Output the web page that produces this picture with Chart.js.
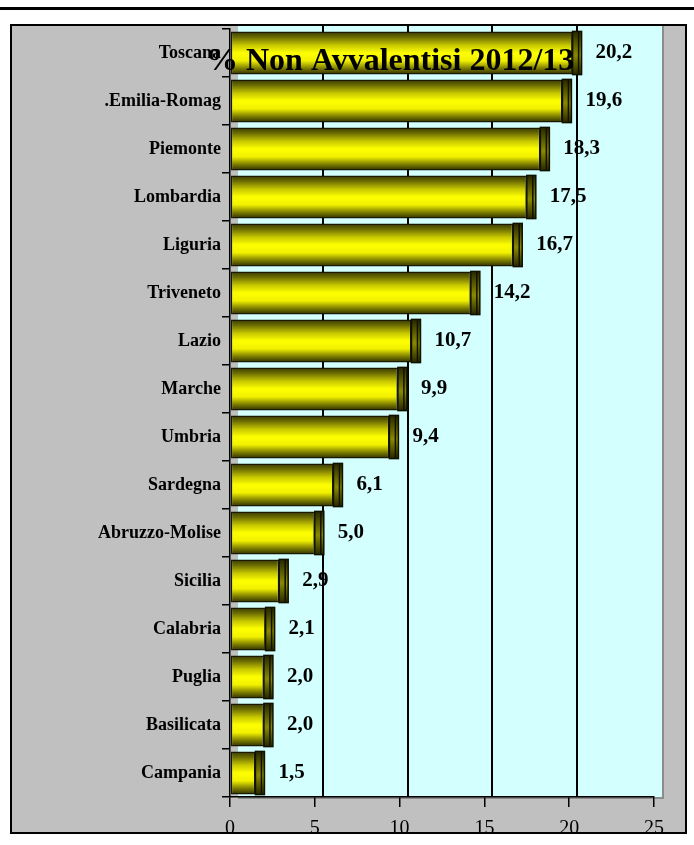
<!DOCTYPE html>
<html>
<head>
<meta charset="utf-8">
<script src="https://cdn.jsdelivr.net/npm/chart.js@4.4.1/dist/chart.umd.min.js"></script>
<style>
  html, body { margin: 0; padding: 0; background: #fff; }
  canvas { display: block; }
</style>
</head>
<body>
<canvas id="regioniChart" width="694" height="845"></canvas>
<script>
const TITLE = '% Non Avvalentisi 2012/13';
const regioni = ['Toscana', '.Emilia-Romag', 'Piemonte', 'Lombardia', 'Liguria', 'Triveneto', 'Lazio', 'Marche',
    'Umbria', 'Sardegna', 'Abruzzo-Molise', 'Sicilia', 'Calabria', 'Puglia', 'Basilicata', 'Campania'];
const percentuali = [20.2, 19.6, 18.3, 17.5, 16.7, 14.2, 10.7, 9.9, 9.4, 6.1, 5.0, 2.9, 2.1, 2.0, 2.0, 1.5];
const xTicks = [0, 5, 10, 15, 20, 25];

const SERIF = "'Liberation Serif', 'Times New Roman', serif";
Chart.defaults.font.family = SERIF;
Chart.defaults.color = '#000';

const DEPTH = 8; // 3d offset of the back wall

function barGradient(ctx, top, bottom, dark) {
    const g = ctx.createLinearGradient(0, top, 0, bottom);
    if (dark) {
        g.addColorStop(0, '#262600');
        g.addColorStop(0.55, '#8a8a00');
        g.addColorStop(1, '#262600');
    } else {
        g.addColorStop(0, '#333300');
        g.addColorStop(0.12, '#666600');
        g.addColorStop(0.32, '#c8c800');
        g.addColorStop(0.5, '#ffff00');
        g.addColorStop(0.68, '#f0f000');
        g.addColorStop(0.86, '#7a7a00');
        g.addColorStop(1, '#2a2a00');
    }
    return g;
}

// sfondo: linea in alto, riquadro grigio, parete azzurra e griglia spostata
const sfondoPlugin = {
    id: 'sfondo',
    beforeDraw(chart) {
        const ctx = chart.ctx;
        const a = chart.chartArea;
        ctx.save();
        ctx.fillStyle = '#fff';
        ctx.fillRect(0, 0, chart.width, chart.height);
        ctx.fillStyle = '#000';
        ctx.fillRect(0, 7, chart.width, 3);
        ctx.fillStyle = '#c0c0c0';
        ctx.fillRect(10, 25, 676, 808);
        // parete
        ctx.fillStyle = '#d4ffff';
        ctx.fillRect(a.left + DEPTH, 26, a.right - a.left, a.bottom - 26);
        ctx.fillStyle = '#8c8c8c';
        ctx.fillRect(a.right + DEPTH, 26, 2, a.bottom - 24);
        ctx.fillRect(a.left + DEPTH, a.bottom, a.right - a.left + 2, 2);
        ctx.restore();
    },
    beforeDatasetsDraw(chart) {
        const ctx = chart.ctx;
        const x = chart.scales.x;
        const a = chart.chartArea;
        ctx.save();
        ctx.strokeStyle = '#000';
        ctx.lineWidth = 2;
        xTicks.slice(1, -1).forEach(v => {
            const px = Math.round(x.getPixelForValue(v)) + DEPTH;
            ctx.beginPath();
            ctx.moveTo(px, 26);
            ctx.lineTo(px, a.bottom);
            ctx.stroke();
        });
        ctx.restore();
    },
    afterDatasetsDraw(chart) {
        const ctx = chart.ctx;
        const meta = chart.getDatasetMeta(0);
        ctx.save();
        meta.data.forEach((bar, i) => {
            const top = bar.y - bar.height / 2;
            const bottom = bar.y + bar.height / 2;
            // tappo del cilindro
            ctx.fillStyle = barGradient(ctx, top, bottom, true);
            ctx.fillRect(bar.x, top, DEPTH + 1, bar.height);
            ctx.strokeStyle = '#111100';
            ctx.lineWidth = 1.5;
            ctx.strokeRect(bar.x, top, DEPTH + 1, bar.height);
            ctx.beginPath();
            ctx.moveTo(bar.x + 6, top);
            ctx.lineTo(bar.x + 6, bottom);
            ctx.stroke();
            // etichetta valore
            ctx.fillStyle = '#000';
            ctx.font = 'bold 21px ' + SERIF;
            ctx.textAlign = 'left';
            ctx.textBaseline = 'middle';
            ctx.fillText(percentuali[i].toFixed(1).replace('.', ','), bar.x + 23, bar.y);
        });
        // titolo sopra la prima barra
        ctx.font = 'bold 32px ' + SERIF;
        ctx.textAlign = 'left';
        ctx.textBaseline = 'alphabetic';
        ctx.fillStyle = '#000';
        ctx.fillText(TITLE, 206, 70);
        ctx.restore();
    },
    afterDraw(chart) {
        const ctx = chart.ctx;
        ctx.save();
        ctx.fillStyle = '#fff';
        ctx.fillRect(0, 834, chart.width, chart.height - 834);
        ctx.strokeStyle = '#000';
        ctx.lineWidth = 2;
        ctx.strokeRect(11, 25, 675, 808);
        ctx.restore();
    }
};

const ctx = document.getElementById('regioniChart').getContext('2d');
const regioniChart = new Chart(ctx, {
    type: 'bar',
    data: {
        labels: regioni,
        datasets: [{
            data: percentuali,
            backgroundColor: function (c) {
                const chart = c.chart;
                const y = chart.scales.y;
                if (!chart.chartArea || !y) return '#ffff00';
                const band = (chart.chartArea.bottom - chart.chartArea.top) / regioni.length;
                const yc = y.getPixelForValue(c.dataIndex);
                return barGradient(chart.ctx, yc - band * 0.45, yc + band * 0.45, false);
            },
            borderColor: '#1a1a00',
            borderWidth: 1.5,
            borderSkipped: false,
            barPercentage: 0.9,
            categoryPercentage: 1.0
        }]
    },
    options: {
        indexAxis: 'y',
        responsive: false,
        animation: false,
        devicePixelRatio: 1,
        layout: { padding: { top: 29, right: 40, bottom: 0, left: 0 } },
        plugins: {
            legend: { display: false },
            title: { display: false },
            tooltip: { enabled: false }
        },
        scales: {
            x: {
                min: 0,
                max: 25,
                afterFit: s => { s.height = 48; },
                afterBuildTicks: s => { s.ticks = xTicks.map(v => ({ value: v })); },
                grid: { drawOnChartArea: false, color: '#000', tickLength: 10, lineWidth: 1.5 },
                border: { color: '#000', width: 1.5 },
                ticks: { font: { size: 20 }, padding: 10, color: '#000', maxRotation: 0 }
            },
            y: {
                afterFit: s => { s.width = 230; },
                grid: { drawOnChartArea: false, color: '#000', tickLength: 8, lineWidth: 1.5, offset: true },
                border: { color: '#000', width: 1.5 },
                ticks: { font: { size: 18, weight: 'bold' }, padding: 1, color: '#000', autoSkip: false }
            }
        }
    },
    plugins: [sfondoPlugin]
});
</script>
</body>
</html>
